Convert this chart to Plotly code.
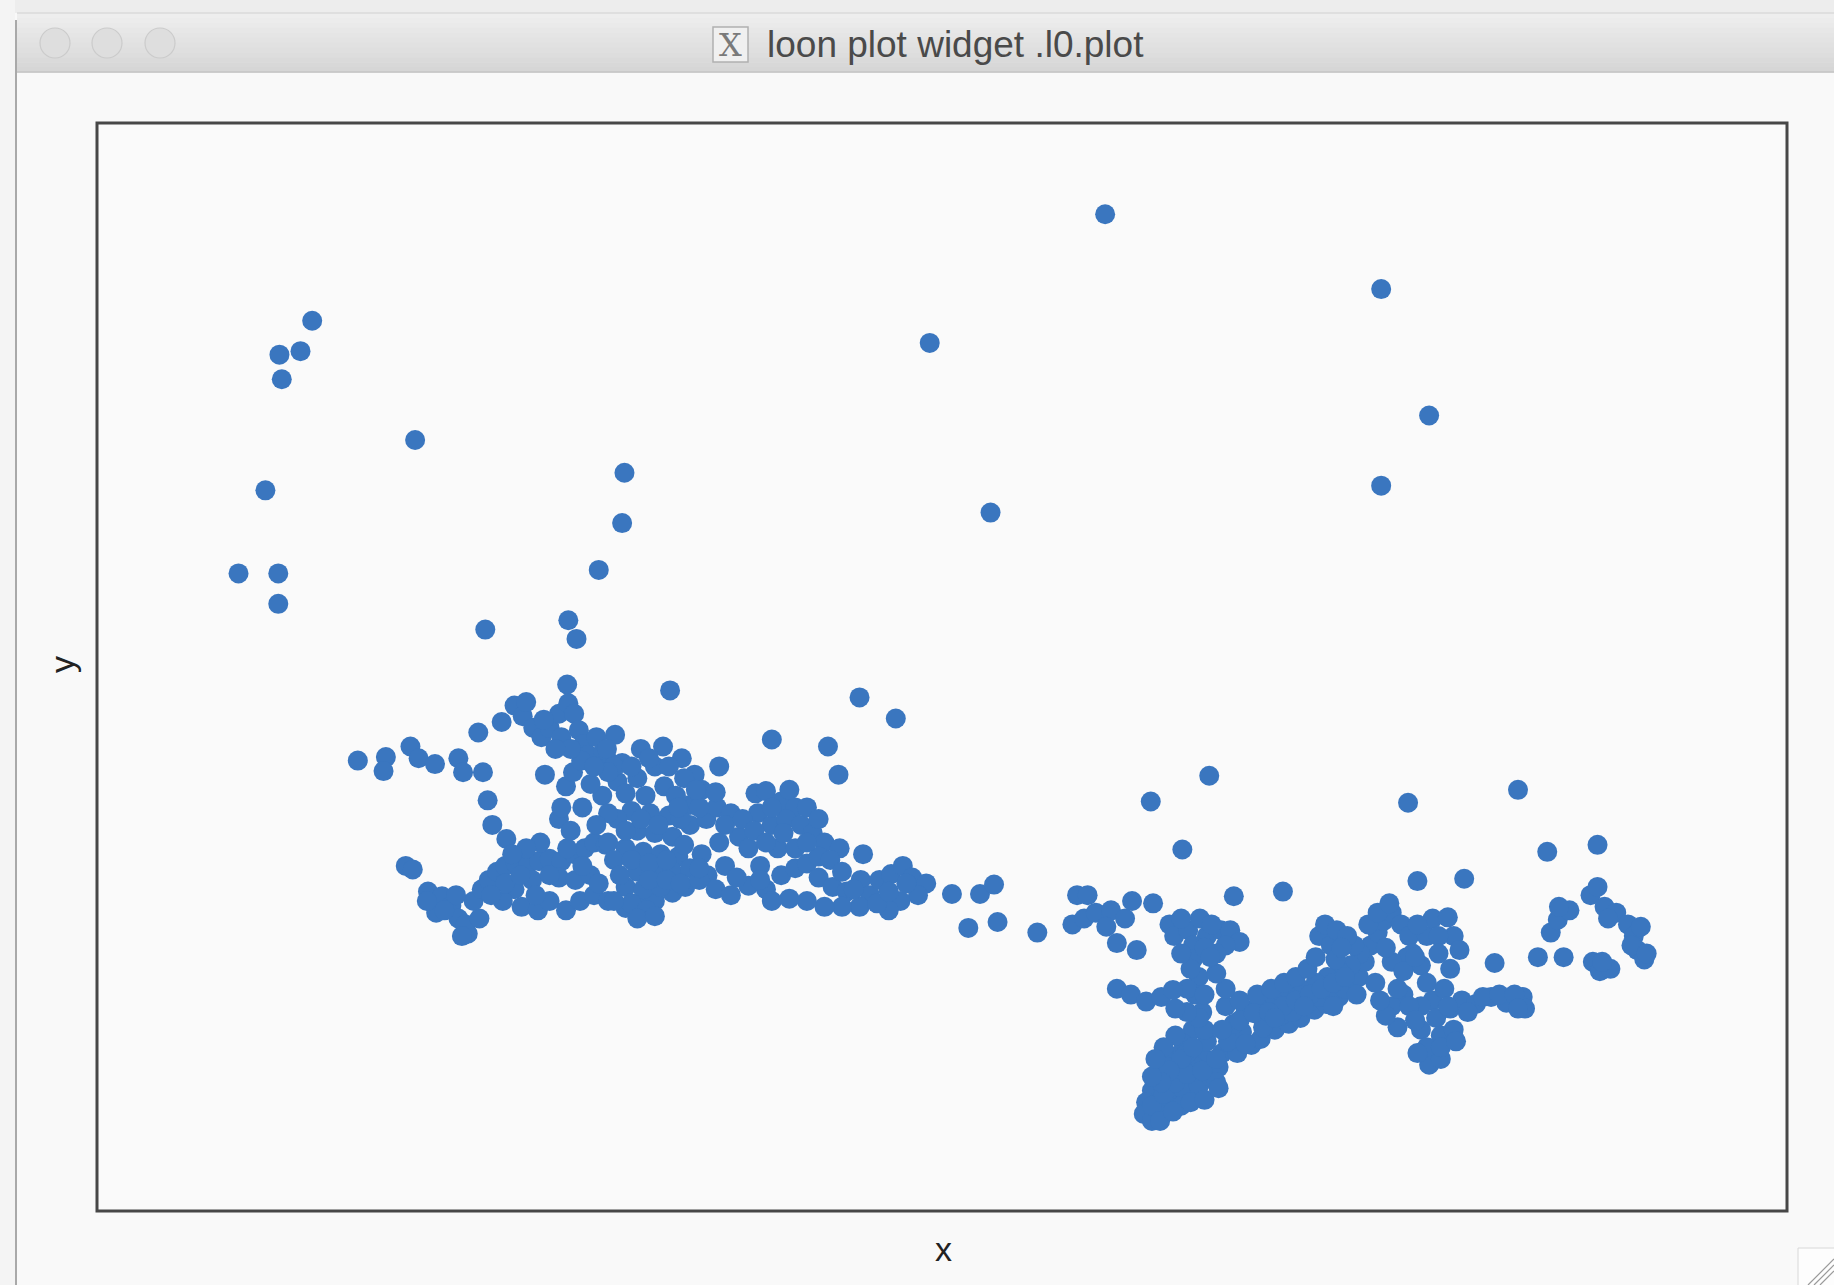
import plotly.graph_objects as go

# ---------------- data (arbitrary units) ----------------
outlier_x = [945, 1181, 795, 1222, 1181, 847, 267, 257, 239, 241, 355, 227, 534, 532, 512, 204, 238, 238,
             415, 486, 493, 573, 485, 735, 766, 660, 708, 717, 615, 1034, 984, 1298, 1204, 1011, 1366, 1323,
             1252, 1212, 1097, 887, 853, 828, 814, 838, 850]
outlier_y = [852, 788, 742, 680, 620, 597, 761, 735, 732, 711, 659, 616, 631, 588, 548, 545, 545, 519,
             497, 505, 489, 445, 450, 439, 421, 403, 397, 373, 380, 372, 350, 360, 349, 309, 313, 307,
             284, 282, 273, 238, 247, 242, 271, 271, 279]

left_x = [306, 330, 328, 351, 358, 372, 392, 396, 413, 409, 429, 440, 447, 456, 463, 470, 478, 486, 491, 495,
          499, 503, 516, 526, 466, 484, 490, 497, 417, 421, 433, 347, 353, 366, 378, 373, 386, 392, 400, 398,
          405, 412, 418, 425, 432, 441, 452, 461, 470, 480, 491, 500, 508, 518, 455, 440, 430, 446, 460, 470,
          484, 496, 508, 520, 535, 548, 560, 575, 586, 478, 492, 505, 432,
          450, 465, 480, 488, 510, 520, 475]
left_y = [385, 388, 376, 397, 387, 382, 387, 375, 375, 409, 418, 432, 423, 413, 405, 413, 425, 434, 425, 411,
          399, 390, 393, 407, 373, 363, 375, 385, 351, 330, 318, 295, 292, 273, 269, 255, 261, 250, 237, 245,
          265, 275, 283, 290, 295, 297, 297, 299, 301, 299, 305, 310, 315, 313, 283, 275, 265, 260, 257, 265,
          257, 265, 270, 265, 259, 261, 265, 272, 277, 285, 283, 287, 280,
          435, 420, 405, 395, 405, 385, 395]

center_x = [519, 532, 548, 567, 583, 594, 560, 545, 528, 515, 535, 552, 568, 578, 590, 540, 556, 572, 528, 545,
            560, 575, 590, 604, 613, 625, 520, 535, 550, 565, 580, 545, 560, 575, 590, 535, 550, 565, 540, 553,
            600, 612, 646, 655, 668, 680, 648, 660, 672, 685, 695, 705, 718, 738, 632, 640, 620, 605, 612, 625,
            640, 655, 668, 680, 690, 700, 712, 724, 736, 744, 735, 720, 705, 690, 675, 660, 700, 665, 650, 752,
            762, 772, 780, 792, 785, 770, 760, 750]
center_y = [395, 383, 395, 397, 387, 373, 380, 370, 367, 355, 357, 355, 363, 355, 347, 342, 340, 338, 335, 325,
            323, 320, 330, 335, 345, 340, 315, 310, 307, 305, 303, 290, 290, 290, 293, 277, 275, 277, 263, 257,
            360, 358, 357, 359, 350, 345, 340, 330, 335, 330, 323, 315, 310, 305, 320, 310, 295, 287, 275, 270,
            278, 275, 287, 293, 297, 285, 277, 273, 283, 270, 260, 260, 260, 265, 267, 265, 303, 310, 295, 283,
            288, 295, 285, 280, 270, 265, 257, 263]

center_fill_x = [525, 540, 555, 572, 585, 520, 535, 548, 563, 582, 598, 510, 525, 540, 555, 570, 585, 600, 530,
                 555, 570, 582, 598, 545, 560, 525, 512, 498, 485, 470, 458, 445, 420, 410, 390, 380, 395, 365,
                 478, 488, 498, 505, 480, 462, 450, 438, 520, 508, 580, 595, 620, 635, 645, 655, 670, 680, 690,
                 710, 720, 730, 760, 775, 650, 630, 660, 675, 690, 700, 615, 598]
center_fill_y = [380, 380, 387, 380, 370, 340, 325, 335, 330, 335, 345, 330, 300, 300, 297, 300, 313, 305, 287,
                 283, 283, 280, 283, 250, 252, 265, 280, 295, 310, 287, 270, 287, 270, 250, 270, 257, 235, 265,
                 335, 325, 345, 365, 345, 315, 310, 305, 375, 380, 345, 360, 330, 335, 325, 315, 323, 310, 315,
                 300, 290, 275, 273, 280, 283, 285, 345, 360, 345, 335, 315, 293]

right_top_x = [921, 930, 917, 927, 937, 950, 946, 962, 968, 986, 955, 972, 1000, 1004, 1016, 1026, 1032, 1044,
               1052, 1055, 1060, 1020, 1010, 1036, 1048, 1040]
right_top_y = [270, 270, 245, 250, 255, 257, 243, 250, 265, 263, 229, 223, 245, 235, 240, 250, 235, 240,
               240, 269, 230, 227, 250, 245, 227, 220]

right_band_x = [1020, 1025, 1022, 1028, 1020, 1012, 1003, 997, 990, 985, 980, 978, 990, 1000, 1012, 1025, 1035,
                1042, 1030, 1020, 1008, 998, 1015, 1032, 1045, 1058, 1070, 1062, 1078, 1090, 1102, 1112, 1124,
                1134, 1145, 1155, 1162, 1167, 1172, 1178, 1183, 1190, 1198, 1205, 1208, 1215, 1220, 1225, 1228,
                1232, 1227, 1222, 1232, 1243, 1240, 1250, 1262, 1275, 1288, 1302, 1304, 1220, 1225, 1238, 1243,
                1248, 1240, 1235, 1040, 1010, 985, 1000]
right_band_y = [215, 200, 185, 170, 155, 143, 132, 123, 113, 103, 93, 83, 87, 97, 103, 107, 115,
                123, 130, 125, 117, 107, 135, 145, 135, 135, 142, 153, 147, 155, 160, 165, 172,
                177, 183, 190, 200, 213, 227, 238, 248, 255, 245, 235, 220, 210, 195, 180, 165,
                150, 137, 125, 130, 155, 173, 180, 177, 183, 178, 183, 173, 235, 250, 251, 235,
                223, 207, 190, 110, 90, 77, 110]

right_fill_x = [985, 995, 1005, 1015, 1028, 1040, 992, 1003, 1018, 1030, 1042, 1010, 1000, 993, 985, 1020, 1030,
                1025, 1015, 1015, 1030, 1018, 1030, 1010,
                1050, 1065, 1080, 1095, 1105, 1118, 1128, 1138, 1150, 1160, 1163, 1155, 1145, 1135, 1125, 1112,
                1100, 1088, 1075, 1065, 1055, 1045, 1170, 1178, 1188, 1158, 1128, 1138, 1142,
                1212, 1230, 1230, 1238, 1215, 1220, 1232, 1212, 1200, 1190, 1255, 1268, 1282, 1295, 1298, 1245,
                1215, 1203]
right_fill_y = [90, 100, 110, 117, 120, 130, 77, 85, 93, 95, 105, 130, 120, 110, 115, 140, 155,
                165, 170, 190, 185, 207, 225, 220,
                145, 143, 157, 167, 170, 177, 183, 187, 190, 185, 220, 210, 205, 200, 195, 190,
                185, 180, 175, 170, 160, 155, 245, 255, 263, 227, 235, 227, 215,
                245, 235, 220, 175, 155, 140, 140, 135, 185, 175, 170, 183, 185, 185, 173, 145,
                175, 217]

right_mid_x = [955, 967, 980, 993, 1005, 1003, 1048, 1060, 1075, 1087, 1098, 1108, 1118, 1125, 1133, 1143, 1152,
               1147, 1097, 1108, 1120, 1130, 1140, 1150, 1060, 1072, 1085, 1048, 1040, 1035, 1005, 995, 988,
               1195, 1205, 1210, 1195, 1185, 1180, 1176, 1190, 1185, 1200, 1210, 1115, 1090, 1140]
right_mid_y = [190, 185, 179, 183, 173, 189, 175, 180, 185, 190, 195, 200, 207, 217, 245, 240, 235,
               225, 175, 180, 185, 190, 195, 200, 163, 169, 170, 190, 203, 217, 150, 140, 130,
               190, 175, 163, 157, 167, 180, 195, 213, 225, 205, 217, 175, 165, 175]

right_side_x = [1315, 1337, 1326, 1332, 1342, 1360, 1366, 1372, 1382, 1392, 1397, 1400, 1406, 1403, 1362, 1368,
                1377, 1278, 1333, 1375, 1395, 1408, 1370]
right_side_y = [217, 217, 238, 249, 257, 270, 277, 260, 255, 245, 235, 223, 215, 243, 213, 205,
                207, 212, 260, 250, 227, 220, 213]

x_vals = (outlier_x + left_x + center_x + center_fill_x + right_top_x + right_band_x + right_fill_x
          + right_mid_x + right_side_x)
y_vals = (outlier_y + left_y + center_y + center_fill_y + right_top_y + right_band_y + right_fill_y
          + right_mid_y + right_side_y)

X_RANGE = [83, 1528]
Y_RANGE = [0, 930]

title_text = "loon plot widget .l0.plot"
x_label = "x"
y_label = "y"

# ---------------- geometry ----------------
W, H = 1834, 1285
ML, MR, MT, MB = 97, 47, 123, 74
PW, PH = W - ML - MR, H - MT - MB


def fx(px):
    return (px - ML) / PW


def fy(py):
    return (H - MB - py) / PH


POINT_COLOR = "#3a76bf"

fig = go.Figure()
fig.add_trace(go.Scatter(
    x=x_vals, y=y_vals, mode="markers",
    marker=dict(size=20, color=POINT_COLOR, line=dict(width=0)),
    hoverinfo="skip", showlegend=False,
))

shapes = []
# desktop area above / left of the window
shapes.append(dict(type="rect", xref="paper", yref="paper", x0=fx(0), x1=fx(W), y0=fy(0), y1=fy(13),
                   fillcolor="#ededed", line=dict(width=0), layer="below"))
shapes.append(dict(type="rect", xref="paper", yref="paper", x0=fx(0), x1=fx(15), y0=fy(0), y1=fy(H),
                   fillcolor="#f4f4f4", line=dict(width=0), layer="below"))
# title bar gradient
top_c = (238, 238, 238)
bot_c = (214, 214, 214)
y_top, y_bot = 13, 72
n = 12
for i in range(n):
    t = i / (n - 1)
    c = tuple(int(round(top_c[k] + (bot_c[k] - top_c[k]) * t)) for k in range(3))
    y0 = y_top + (y_bot - y_top) * i / n
    y1 = y_top + (y_bot - y_top) * (i + 1) / n
    shapes.append(dict(type="rect", xref="paper", yref="paper", x0=fx(17), x1=fx(W + 5),
                       y0=fy(y0), y1=fy(y1 + 0.5), fillcolor="rgb(%d,%d,%d)" % c, line=dict(width=0)))
shapes.append(dict(type="line", xref="paper", yref="paper", x0=fx(17), x1=fx(W), y0=fy(72), y1=fy(72),
                   line=dict(color="#c4c4c4", width=1.5)))
shapes.append(dict(type="line", xref="paper", yref="paper", x0=fx(17), x1=fx(W), y0=fy(13), y1=fy(13),
                   line=dict(color="#dadada", width=1.5)))
# window left border
shapes.append(dict(type="line", xref="paper", yref="paper", x0=fx(16), x1=fx(16), y0=fy(20), y1=fy(H),
                   line=dict(color="#a9a9a9", width=2)))
# traffic-light buttons (inactive)
for cx in (55, 107, 160):
    shapes.append(dict(type="circle", xref="paper", yref="paper",
                       x0=fx(cx - 15), x1=fx(cx + 15), y0=fy(43 - 15), y1=fy(43 + 15),
                       fillcolor="#dedede", line=dict(color="#cbcbcb", width=1.2)))
# X11 icon box
shapes.append(dict(type="rect", xref="paper", yref="paper", x0=fx(713), x1=fx(748), y0=fy(27), y1=fy(62),
                   fillcolor="#f0f0f0", line=dict(color="#b0b0b0", width=1.5)))
# plot frame
shapes.append(dict(type="rect", xref="paper", yref="paper", x0=0, x1=1, y0=0, y1=1,
                   line=dict(color="#474747", width=3)))
# resize grip
shapes.append(dict(type="rect", xref="paper", yref="paper", x0=fx(1798), x1=fx(W + 5), y0=fy(1248), y1=fy(H + 5),
                   fillcolor="#fdfdfd", line=dict(color="#d8d8d8", width=1)))
for off in (0, 6, 12):
    shapes.append(dict(type="line", xref="paper", yref="paper",
                       x0=fx(1808 + off), x1=fx(1834), y0=fy(1285), y1=fy(1259 + off),
                       line=dict(color="#9a9a9a", width=1.2)))

annotations = [
    dict(text=title_text, xref="paper", yref="paper", x=fx(956), y=fy(44), xanchor="center", yanchor="middle",
         showarrow=False, font=dict(family="Liberation Sans, Arial, sans-serif", size=37, color="#4a4a4a")),
    dict(text="X", xref="paper", yref="paper", x=fx(730.5), y=fy(45), xanchor="center", yanchor="middle",
         showarrow=False, font=dict(family="DejaVu Serif, serif", size=32, color="#7a7a7a")),
    dict(text=x_label, xref="paper", yref="paper", x=fx(943), y=fy(1249), xanchor="center", yanchor="middle",
         showarrow=False, font=dict(family="Liberation Sans, Arial, sans-serif", size=34, color="#222222")),
    dict(text=y_label, xref="paper", yref="paper", x=fx(62), y=fy(665), xanchor="center", yanchor="middle",
         textangle=-90, showarrow=False,
         font=dict(family="Liberation Sans, Arial, sans-serif", size=34, color="#222222")),
]

fig.update_layout(
    width=W, height=H,
    margin=dict(l=ML, r=MR, t=MT, b=MB, pad=0),
    paper_bgcolor="#f9f9f9",
    plot_bgcolor="#fafafa",
    xaxis=dict(range=X_RANGE, showgrid=False, zeroline=False, showticklabels=False, ticks="",
               showline=False, fixedrange=True),
    yaxis=dict(range=Y_RANGE, showgrid=False, zeroline=False, showticklabels=False, ticks="",
               showline=False, fixedrange=True),
    shapes=shapes,
    annotations=annotations,
    showlegend=False,
)

fig.write_html("out.html", config={"displayModeBar": False})
